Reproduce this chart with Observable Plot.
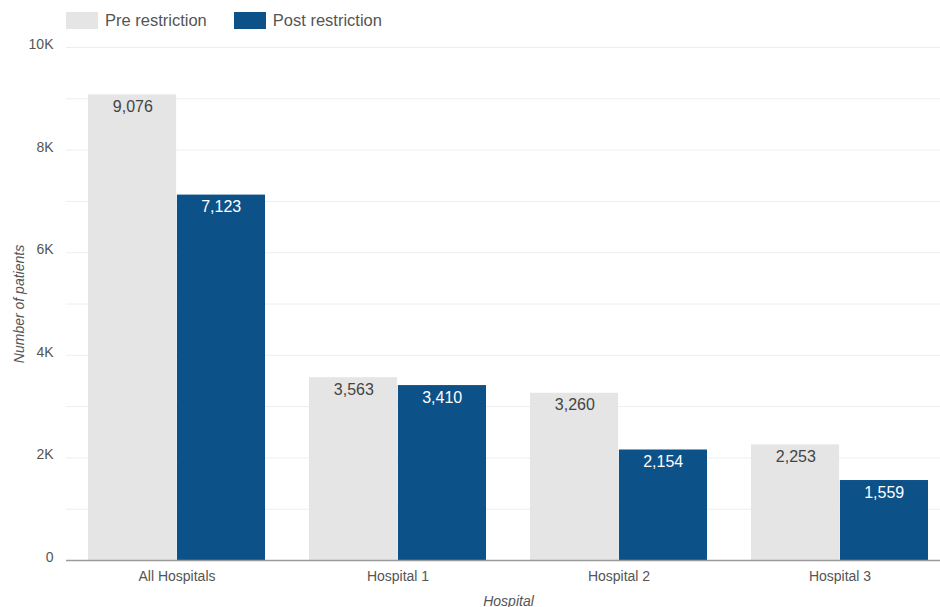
<!DOCTYPE html>
<html>
<head>
<meta charset="utf-8">
<script src="https://cdn.jsdelivr.net/npm/d3@7"></script>
<script src="https://cdn.jsdelivr.net/npm/@observablehq/plot@0.6"></script>
<style>
  html, body { margin: 0; padding: 0; background: #fff; }
  #wrap { position: relative; width: 940px; height: 607px; font-family: "Liberation Sans", Arial, sans-serif; }
  #legend { position: absolute; left: 66px; top: 11px; display: flex; align-items: center; font-size: 16.5px; color: #555; }
  .sw { width: 32px; height: 17px; display: inline-block; margin-right: 7px; }
  .item { display: flex; align-items: center; margin-right: 27px; }
  g[aria-label="y-axis label"] text, g[aria-label="x-axis label"] text { font-style: italic; }
</style>
</head>
<body>
<div id="wrap"><div id="chart"></div><div id="legend"></div></div>
<script>
const hospitals = ["All Hospitals", "Hospital 1", "Hospital 2", "Hospital 3"];
const series = ["Pre restriction", "Post restriction"];
const preValues = [9076, 3563, 3260, 2253];
const postValues = [7123, 3410, 2154, 1559];
const yTicks = [0, 2000, 4000, 6000, 8000, 10000];
const gridTicks = [1000, 2000, 3000, 4000, 5000, 6000, 7000, 8000, 9000, 10000];
const colors = ["#e5e5e5", "#0d5189"];

const preData = hospitals.map((h, i) => ({hospital: h, series: series[0], value: preValues[i]}));
const postData = hospitals.map((h, i) => ({hospital: h, series: series[1], value: postValues[i]}));
const fmt = d3.format(",");

// layout
const W = 940, mL = 66, mR = -10, padIn = 0.2, padOut = 0.1;
const step = (W - mL - mR) / (hospitals.length - padIn + 2 * padOut);
const half = step * (1 - padIn) / 2;

const chart = Plot.plot({
  width: W,
  height: 607,
  marginLeft: mL,
  marginRight: mR,
  marginTop: 47,
  marginBottom: 47,
  style: {fontFamily: "'Liberation Sans', Arial, sans-serif", color: "#555"},
  x: {domain: hospitals, paddingInner: padIn, paddingOuter: padOut, label: "Hospital"},
  y: {domain: [0, 10000]},
  color: {domain: series, range: colors},
  marks: [
    Plot.ruleY(gridTicks, {stroke: "#eeeeee"}),
    Plot.barY(preData, {x: "hospital", y: "value", fill: "series", insetRight: half + 0.5}),
    Plot.barY(postData, {x: "hospital", y: "value", fill: "series", insetLeft: half + 0.5}),
    Plot.text(preData, {x: "hospital", y: "value", text: d => fmt(d.value), dx: -half / 2, dy: 12, fill: "#444", fontSize: 16}),
    Plot.text(postData, {x: "hospital", y: "value", text: d => fmt(d.value), dx: half / 2, dy: 12, fill: "#fff", fontSize: 16}),
    Plot.ruleY([0], {stroke: "#9a9a9a", strokeWidth: 1.5}),
    Plot.axisY({ticks: yTicks, tickFormat: d => d === 0 ? "0" : d / 1000 + "K", tickSize: 0, tickPadding: 13, fontSize: 14, dy: -3,
      label: "Number of patients", labelAnchor: "center", labelArrow: "none", labelOffset: 52}),
    Plot.axisX({tickSize: 0, tickPadding: 11, fontSize: 14, label: "Hospital", labelAnchor: "center", labelArrow: "none", labelOffset: 45})
  ]
});
document.getElementById("chart").appendChild(chart);

const legend = document.getElementById("legend");
series.forEach((s, i) => {
  const item = document.createElement("div");
  item.className = "item";
  const sw = document.createElement("span");
  sw.className = "sw";
  sw.style.background = colors[i];
  const t = document.createElement("span");
  t.textContent = s;
  item.appendChild(sw);
  item.appendChild(t);
  legend.appendChild(item);
});
</script>
</body>
</html>
